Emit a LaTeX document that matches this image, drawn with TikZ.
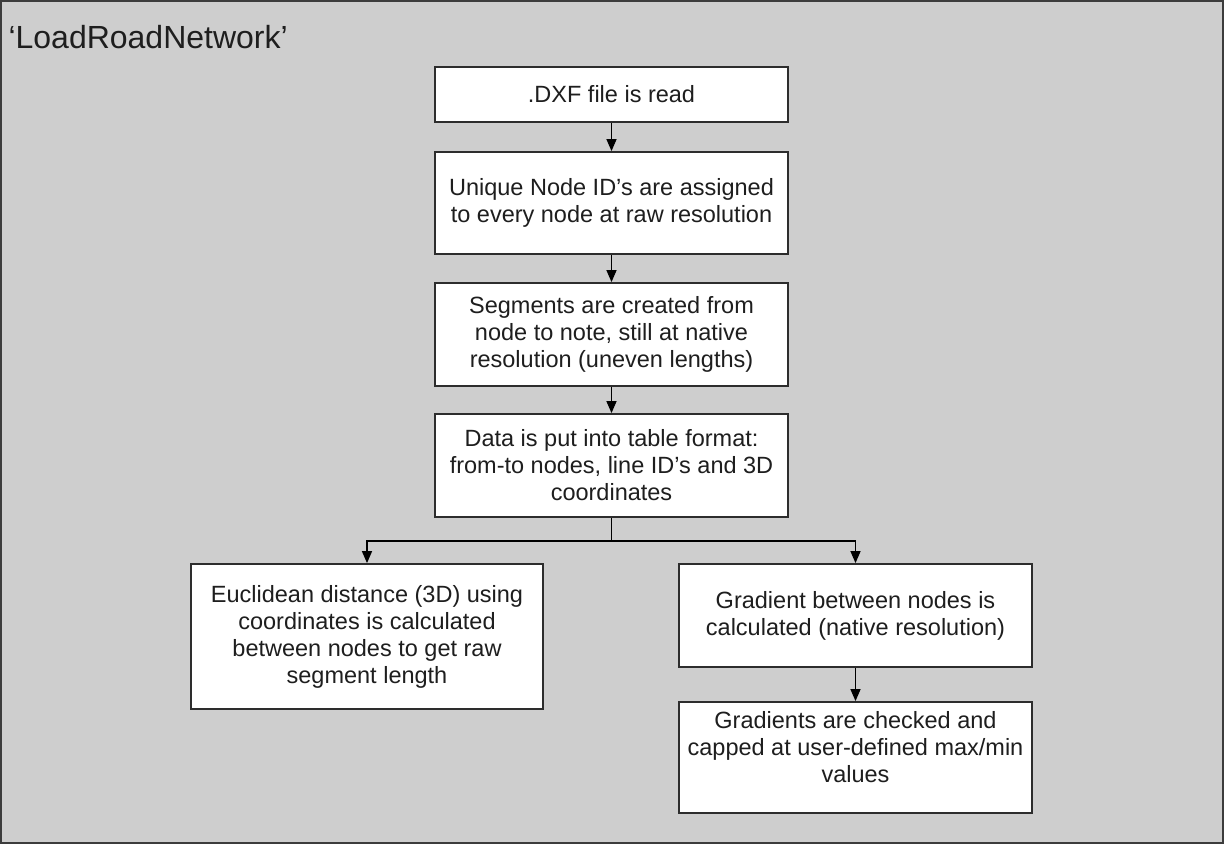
\documentclass[tikz,border=0pt]{standalone}
\usepackage{fontspec}
\setmainfont{Liberation Sans}
\usetikzlibrary{arrows.meta}
\definecolor{panel}{RGB}{206,206,206}
\definecolor{frameline}{RGB}{60,60,60}
\definecolor{boxline}{RGB}{45,45,45}
\definecolor{ink}{RGB}{30,30,30}
\begin{document}
\begin{tikzpicture}[x=1pt,y=-1pt,
  stepbox/.style={draw=boxline,line width=1.8pt,fill=white,align=center,
    text=ink,inner sep=0pt,
    font=\fontsize{23.5}{27}\selectfont},
  flow/.style={draw=black,line width=1.4pt,
    -{Triangle[length=12pt,width=10pt]}}]
\useasboundingbox (0,0) rectangle (1225,845);
% panel with its frame
\path[fill=panel,draw=frameline,line width=2pt] (1,1) rectangle (1223,843);
\node[anchor=base west,text=ink,font=\fontsize{32}{36}\selectfont] (title) at (5,49) {‘LoadRoadNetwork’};

% main chain of steps
\node[stepbox,minimum width=353pt,minimum height=55pt] (read) at (611.5,94.5) {.DXF file is read};
\node[stepbox,minimum width=353pt,minimum height=102pt] (ids) at (611.5,203) {Unique Node ID’s are assigned\\to every node at raw resolution};
\node[stepbox,minimum width=353pt,minimum height=103pt] (segs) at (611.5,334.5) {Segments are created from\\node to note, still at native\\resolution (uneven lengths)};
\node[stepbox,minimum width=353pt,minimum height=103pt] (table) at (611.5,465.5) {Data is put into table format:\\from-to nodes, line ID’s and 3D\\coordinates};

% two branches
\node[stepbox,minimum width=352pt,minimum height=145pt] (dist) at (367,636.5) {Euclidean distance (3D) using\\coordinates is calculated\\between nodes to get raw\\segment length};
\node[stepbox,minimum width=353pt,minimum height=103pt] (grad) at (855.5,615.5) {Gradient between nodes is\\calculated (native resolution)};
\node[stepbox,minimum width=353pt,minimum height=111pt,text depth=22pt] (cap) at (855.5,757.5) {Gradients are checked and\\capped at user-defined max/min\\values};

\coordinate (split) at (611.5,541);

\draw[flow] (read) -- (ids);
\draw[flow] (ids) -- (segs);
\draw[flow] (segs) -- (table);
\draw[draw=black,line width=1.4pt] (table) -- (split);
\draw[flow] (split) -| (dist.north);
\draw[flow] (split) -| (grad.north);
\draw[flow] (grad) -- (cap);
\end{tikzpicture}
\end{document}
